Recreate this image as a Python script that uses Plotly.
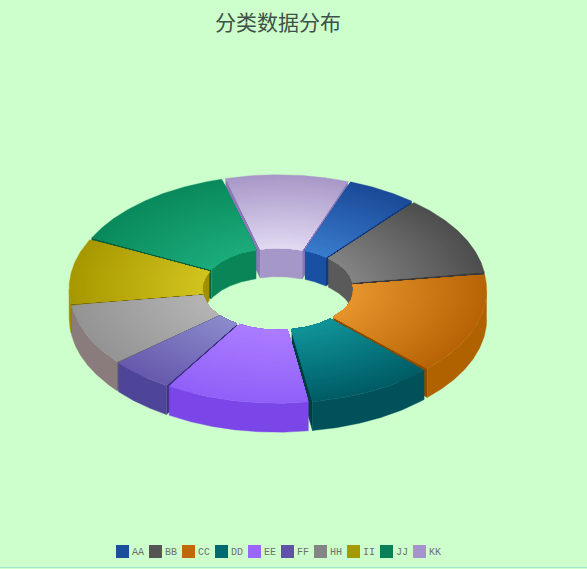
'''3D style donut chart of category shares, built from filled scatter polygons'''

import numpy as np
import plotly.graph_objects as go

####### data #######
categories = ['AA', 'BB', 'CC', 'DD', 'EE', 'FF', 'HH', 'II', 'JJ', 'KK']
values = [20, 42, 53, 36, 41, 18, 32, 34, 49, 35]

####### colours #######
legend_colors = ['#1a4f9c', '#555555', '#c0680a', '#006a70', '#9966ff',
                 '#5f52a8', '#858585', '#a59a00', '#0a8058', '#a493cc']
inner_colors = ['#3a7ccc', '#848484', '#e6942c', '#109498', '#ab7dff',
                '#8b8bcb', '#b4b4b4', '#d2c41e', '#1cac7c', '#e2daf2']
outer_colors = ['#1a4a98', '#4e4e4e', '#b86406', '#005c66', '#9160f8',
                '#675aae', '#949494', '#a89800', '#0a8a5c', '#a898c8']
wall_colors = ['#1a50a2', '#5a5a5a', '#b06200', '#00515a', '#7a46e8',
               '#4f4598', '#8a7c7c', '#a09000', '#0a8558', '#a597c8']
side_colors = ['#103a80', '#3a3a3a', '#8a4e00', '#003c44', '#5a30b0',
               '#3c3480', '#6e6e6e', '#7a6e00', '#07603f', '#8a78b8']

####### geometry of the ring in page pixels #######
start_angle = 20
cx, cy = 278, 289
outer_a, outer_b = 203, 111
inner_a, inner_b = 70, 38
depth = 29
explode = 6
squash = outer_b / outer_a
bands = 40

fig = go.Figure()


def add_poly(xs, ys, color):
    fig.add_trace(go.Scatter(x=xs, y=ys, mode='lines', fill='toself', fillcolor=color,
                             line=dict(width=0.4, color=color), hoverinfo='skip',
                             showlegend=False))


def rim(t, a, b, ox, oy, drop=0):
    return ox + a * np.sin(t), oy - b * np.cos(t) + drop


def mix(c1, c2, f):
    p = [int(c1[i:i + 2], 16) for i in (1, 3, 5)]
    q = [int(c2[i:i + 2], 16) for i in (1, 3, 5)]
    return 'rgb(%d,%d,%d)' % tuple(round(p[i] + (q[i] - p[i]) * f) for i in range(3))


def visible_arc(t0, t1, want_front):
    # part of the arc whose wall faces the viewer
    t = np.radians(np.linspace(t0, t1, 90))
    mask = np.cos(t) < 0 if want_front else np.cos(t) > 0
    return t[mask]


####### turn values into angles and paint back slices first #######
scale = 360 / sum(values)
slices = []
angle = start_angle
for i, v in enumerate(values):
    slices.append((i, angle, angle + v * scale))
    angle += v * scale
slices.sort(key=lambda s: -np.cos(np.radians((s[1] + s[2]) / 2)))

for i, t0, t1 in slices:
    mid = np.radians((t0 + t1) / 2)
    ox = cx + explode * np.sin(mid)
    oy = cy - explode * squash * np.cos(mid)
    t = np.radians(np.linspace(t0, t1, 90))

    # inner wall
    arc = visible_arc(t0, t1, False)
    if len(arc) > 1:
        x1, y1 = rim(arc, inner_a, inner_b, ox, oy)
        x2, y2 = rim(arc[::-1], inner_a, inner_b, ox, oy, depth)
        add_poly(np.r_[x1, x2], np.r_[y1, y2], wall_colors[i])

    # radial side faces, only the ones turned towards the viewer
    for edge, shows in ((t[0], np.sin(t[0]) < 0), (t[-1], np.sin(t[-1]) > 0)):
        if shows:
            xa, ya = rim(edge, inner_a, inner_b, ox, oy)
            xb, yb = rim(edge, outer_a, outer_b, ox, oy)
            add_poly([xa, xb, xb, xa], [ya, yb, yb + depth, ya + depth], side_colors[i])

    # outer wall
    arc = visible_arc(t0, t1, True)
    if len(arc) > 1:
        x1, y1 = rim(arc, outer_a, outer_b, ox, oy)
        x2, y2 = rim(arc[::-1], outer_a, outer_b, ox, oy, depth)
        add_poly(np.r_[x1, x2], np.r_[y1, y2], wall_colors[i])

    # top face, dark outer rim to light inner rim
    xi, yi = rim(t[::-1], inner_a, inner_b, ox, oy)
    for k in range(bands, 0, -1):
        f = k / bands
        xo, yo = rim(t, inner_a + (outer_a - inner_a) * f, inner_b + (outer_b - inner_b) * f, ox, oy)
        add_poly(np.r_[xo, xi], np.r_[yo, yi], mix(inner_colors[i], outer_colors[i], f))

####### legend row #######
legend_x = [122.5 + 33 * n for n in range(len(categories))]
for n, name in enumerate(categories):
    fig.add_trace(go.Scatter(x=[legend_x[n]], y=[551.5], mode='markers', name=name,
                             marker=dict(symbol='square', size=13, color=legend_colors[n]),
                             hoverinfo='skip', showlegend=False))
    fig.add_annotation(x=legend_x[n] + 7.5, y=552, text=name, showarrow=False, xanchor='left',
                       font=dict(family='Liberation Mono', size=10, color='#6e6e6e'))

fig.add_shape(type='line', x0=0, x1=587, y0=567.5, y1=567.5, line=dict(color='#a8e6cf', width=1))

fig.update_xaxes(range=[0, 587], visible=False)
fig.update_yaxes(range=[569, 0], visible=False)
fig.update_layout(width=587, height=569, margin=dict(l=0, r=0, t=0, b=0), showlegend=False,
                  paper_bgcolor='#ccffcc', plot_bgcolor='#ccffcc',
                  title=dict(text='分类数据分布', x=278 / 587, y=0.961, xanchor='center', yanchor='middle',
                             font=dict(family='Noto Sans CJK SC', size=21, color='#3f5048')))

fig.write_html('out.html', config=dict(displayModeBar=False),
               post_script="document.body.style.margin='0';document.body.style.overflow='hidden';")
